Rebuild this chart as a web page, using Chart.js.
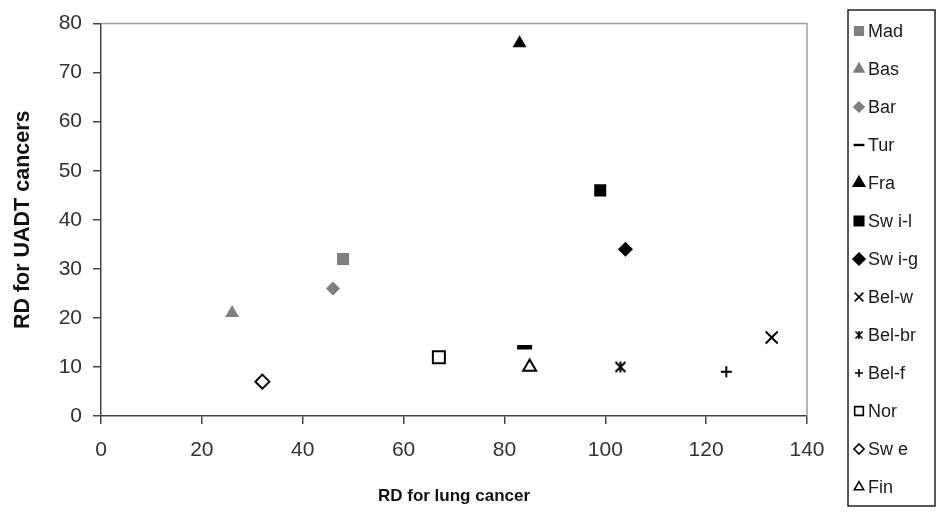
<!DOCTYPE html>
<html><head><meta charset="utf-8">
<script src="https://cdn.jsdelivr.net/npm/chart.js@4/dist/chart.umd.min.js"></script>
<style>html,body{margin:0;padding:0;background:#fff;}#wrap{width:937px;height:513px;position:relative;}</style>
</head><body><div id="wrap"><canvas id="c"></canvas></div>
<script>
// ---- data ----
const categories = ['Mad','Bas','Bar','Tur','Fra','Sw i-l','Sw i-g','Bel-w','Bel-br','Bel-f','Nor','Sw e','Fin'];
const lungRD = [48, 26, 46, 84, 83, 99, 104, 133, 103, 124, 67, 32, 85];
const uadtRD = [32, 21, 26, 14, 76, 46, 34, 16, 10, 9, 12, 7, 10];
const xTicks = [0, 20, 40, 60, 80, 100, 120, 140];
const yTicks = [0, 10, 20, 30, 40, 50, 60, 70, 80];

// ---- marker styles (not data) ----
const GREY = '#7f7f7f', BLACK = '#000';

function makeStar(size, lw) {
  const c = document.createElement('canvas');
  c.width = size; c.height = size;
  const g = c.getContext('2d');
  g.strokeStyle = '#000'; g.lineWidth = lw;
  const p = 1.5, s = size - 1.5;
  g.beginPath();
  g.moveTo(p, p); g.lineTo(s, s);
  g.moveTo(s, p); g.lineTo(p, s);
  g.moveTo(size / 2, p - 0.5); g.lineTo(size / 2, s + 0.5);
  g.stroke();
  return c;
}
const starBig = makeStar(13, 2);
const starSmall = makeStar(10, 1.6);

const markerStyles = [
  {ps:'rect', r:8.5, fill:GREY, stroke:GREY, bw:0},
  {ps:'triangle', r:8, fill:GREY, stroke:GREY, bw:0},
  {ps:'rectRot', r:7, fill:GREY, stroke:GREY, bw:0},
  {ps:'line', r:7.5, fill:BLACK, stroke:BLACK, bw:4.5},
  {ps:'triangle', r:8, fill:BLACK, stroke:BLACK, bw:0},
  {ps:'rect', r:8.5, fill:BLACK, stroke:BLACK, bw:0},
  {ps:'rectRot', r:7.5, fill:BLACK, stroke:BLACK, bw:0},
  {ps:'crossRot', r:8.5, fill:BLACK, stroke:BLACK, bw:2},
  {ps:starBig, psLegend:starSmall, r:7, fill:BLACK, stroke:BLACK, bw:2},
  {ps:'cross', r:5.5, fill:BLACK, stroke:BLACK, bw:2},
  {ps:'rect', r:8.5, fill:'#fff', stroke:BLACK, bw:2},
  {ps:'rectRot', r:7, fill:'#fff', stroke:BLACK, bw:2},
  {ps:'triangle', r:7.5, fill:'#fff', stroke:BLACK, bw:2}
];

const datasets = categories.map((name, i) => ({
  label: name,
  data: [{x: lungRD[i], y: uadtRD[i]}],
  pointStyle: markerStyles[i].ps,
  pointRadius: markerStyles[i].r,
  backgroundColor: markerStyles[i].fill,
  borderColor: markerStyles[i].stroke,
  borderWidth: markerStyles[i].bw,
  showLine: false
}));

const FONT = "'Liberation Sans', Arial, sans-serif";

const framePlugin = {
  id: 'frame',
  beforeDatasetsDraw(chart) {
    const {ctx, chartArea: a} = chart;
    ctx.save();
    ctx.strokeStyle = '#a0a0a0';
    ctx.lineWidth = 1.5;
    ctx.beginPath();
    ctx.moveTo(a.left, a.top); ctx.lineTo(a.right, a.top); ctx.lineTo(a.right, a.bottom);
    ctx.stroke();
    ctx.restore();
  }
};

const legendBoxPlugin = {
  id: 'legendBox',
  afterDraw(chart) {
    const {ctx} = chart;
    const box = {l: 848, t: 10, r: 935, b: 506};
    ctx.save();
    ctx.strokeStyle = '#222';
    ctx.lineWidth = 1.5;
    ctx.strokeRect(box.l, box.t, box.r - box.l, box.b - box.t);
    ctx.font = "18px " + FONT;
    ctx.textBaseline = 'middle';
    ctx.textAlign = 'left';
    chart.data.datasets.forEach((ds, i) => {
      const y = 31 + i * 38;
      const m = markerStyles[i];
      ctx.fillStyle = m.fill;
      ctx.strokeStyle = m.stroke;
      ctx.lineWidth = m.bw > 0 ? Math.min(m.bw, 3) * 0.8 : 0;
      Chart.helpers.drawPoint(ctx, {pointStyle: m.psLegend || m.ps, radius: m.r * 0.72, rotation: 0, borderWidth: ctx.lineWidth}, 859, y);
      ctx.fillStyle = '#1a1a1a';
      ctx.fillText(ds.label, 868, y + 1);
    });
    ctx.restore();
  }
};

new Chart(document.getElementById('c'), {
  type: 'scatter',
  data: {datasets},
  plugins: [framePlugin, legendBoxPlugin],
  options: {
    responsive: true,
    maintainAspectRatio: false,
    animation: false,
    devicePixelRatio: 1,
    events: [],
    layout: {padding: {left: 0, top: 20, right: 130, bottom: 0}},
    plugins: {legend: {display: false}, tooltip: {enabled: false}},
    scales: {
      x: {
        type: 'linear', min: 0, max: 140,
        afterBuildTicks(s) { s.ticks = xTicks.map(v => ({value: v})); },
        afterFit(s) { s.height = 97; },
        grid: {display: true, drawOnChartArea: false, drawTicks: true, tickLength: 8, color: '#444', lineWidth: 1.5},
        border: {display: true, color: '#444', width: 1.5},
        ticks: {font: {size: 21, family: FONT}, color: '#333', padding: 14, maxRotation: 0},
        title: {display: true, text: 'RD for lung cancer', font: {size: 17, weight: 'bold', family: FONT}, color: '#111', padding: {top: 0, bottom: 6}}
      },
      y: {
        type: 'linear', min: 0, max: 80,
        afterBuildTicks(s) { s.ticks = yTicks.map(v => ({value: v})); },
        afterFit(s) { s.width = 101; },
        grid: {display: true, drawOnChartArea: false, drawTicks: true, tickLength: 8, color: '#444', lineWidth: 1.5},
        border: {display: true, color: '#444', width: 1.5},
        ticks: {font: {size: 21, family: FONT}, color: '#333', padding: 11},
        title: {display: true, text: 'RD for UADT cancers', font: {size: 21.5, weight: 'bold', family: FONT}, color: '#111', padding: {top: 10, bottom: 0}}
      }
    }
  }
});
</script></body></html>
